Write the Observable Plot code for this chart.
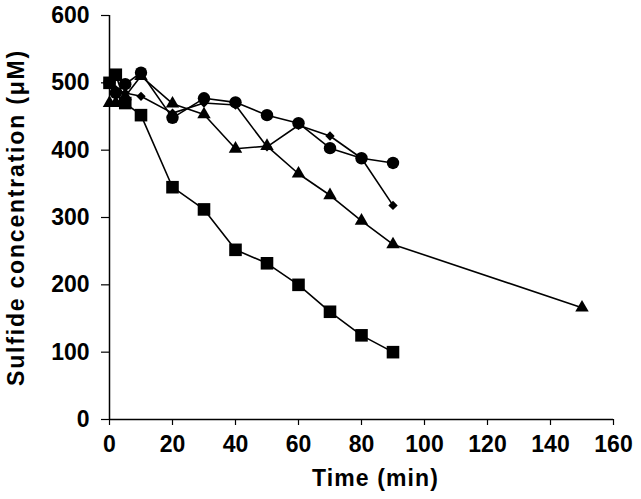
<!DOCTYPE html>
<html>
<head>
<meta charset="utf-8">
<script src="https://cdn.jsdelivr.net/npm/d3@7"></script>
<script src="https://cdn.jsdelivr.net/npm/@observablehq/plot@0.6"></script>
<style>
  html, body { margin: 0; padding: 0; background: #fff; }
</style>
</head>
<body>
<div id="chart"></div>
<script>
// ---- data ----
const squareTime = [0, 2, 5, 10, 20, 30, 40, 50, 60, 70, 80, 90];
const squareConc = [500, 512, 470, 452, 345, 312, 252, 232, 200, 160, 125, 100];

const circleTime = [0, 2, 5, 10, 20, 30, 40, 50, 60, 70, 80, 90];
const circleConc = [500, 485, 498, 515, 448, 477, 471, 452, 440, 403, 388, 381];

const diamondTime = [0, 2, 5, 10, 20, 30, 40, 50, 60, 70, 80, 90];
const diamondConc = [500, 490, 485, 480, 455, 470, 467, 405, 437, 421, 388, 318];

const triangleTime = [0, 2, 5, 10, 20, 30, 40, 50, 60, 70, 80, 90, 150];
const triangleConc = [470, 470, 480, 510, 469, 453, 402, 406, 365, 333, 295, 260, 166];

const xTicks = [0, 20, 40, 60, 80, 100, 120, 140, 160];
const yTicks = [0, 100, 200, 300, 400, 500, 600];

const xLabel = "Time (min)";
const yLabel = "Sulfide concentration (\u03BCM)";

// ---- build table ----
function series(name, t, c) { return t.map((d, i) => ({series: name, time: d, conc: c[i]})); }
const squares = series("square", squareTime, squareConc);
const circles = series("circle", circleTime, circleConc);
const diamonds = series("diamond", diamondTime, diamondConc);
const triangles = series("triangle", triangleTime, triangleConc);
const all = [...squares, ...circles, ...diamonds, ...triangles];

const font = "'Liberation Sans', Arial, Helvetica, sans-serif";

const chart = Plot.plot({
  width: 641,
  height: 499,
  marginLeft: 109,
  marginRight: 28,
  marginTop: 15,
  marginBottom: 80,
  style: {fontFamily: font, fontWeight: "bold", fontSize: "23px", color: "#000", background: "#fff"},
  x: {domain: [0, 160], ticks: xTicks, label: null},
  y: {domain: [0, 600], ticks: yTicks, label: null},
  marks: [
    Plot.axisX({ticks: xTicks, tickSize: 6, tickPadding: 10, stroke: "#000", strokeWidth: 1.2, label: null, fontSize: 23}),
    Plot.axisY({ticks: yTicks, tickSize: 8, tickPadding: 12, stroke: "#000", strokeWidth: 1.2, label: null, fontSize: 23}),
    Plot.ruleX([0], {stroke: "#000", strokeWidth: 1.5}),
    Plot.ruleY([0], {stroke: "#000", strokeWidth: 1.5}),
    Plot.line(all, {x: "time", y: "conc", z: "series", stroke: "#000", strokeWidth: 1.6}),
    Plot.dot(triangles, {x: "time", y: "conc", symbol: "triangle", fill: "#000", r: 5}),
    Plot.dot(diamonds, {x: "time", y: "conc", symbol: "diamond2", fill: "#000", r: 4.2}),
    Plot.dot(circles, {x: "time", y: "conc", symbol: "circle", fill: "#000", r: 6.2}),
    Plot.dot(squares, {x: "time", y: "conc", symbol: "square", fill: "#000", r: 7.1}),
    Plot.text([xLabel], {frameAnchor: "bottom", dx: 14, dy: 59, text: d => d, fontSize: 23, fontWeight: "bold", fill: "#000", lineAnchor: "middle", textAnchor: "middle", style: "letter-spacing:1.1px"}),
    Plot.text([yLabel], {frameAnchor: "left", dx: -93, text: d => d, rotate: -90, fontSize: 23, fontWeight: "bold", fill: "#000", lineAnchor: "middle", textAnchor: "middle"})
  ]
});
// widen label letter spacing to match the reference
chart.querySelectorAll("text").forEach(t => {
  if (t.textContent === yLabel) t.style.letterSpacing = "1.8px";
  if (t.textContent === xLabel) t.style.letterSpacing = "1.1px";
});
document.getElementById("chart").appendChild(chart);
</script>
</body>
</html>
